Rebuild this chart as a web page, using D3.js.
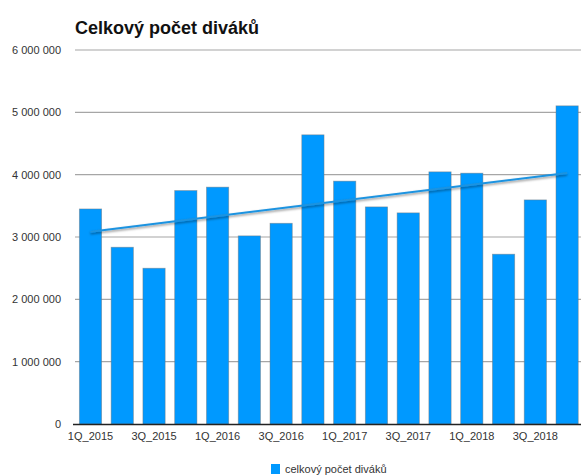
<!DOCTYPE html>
<html lang="cs">
<head>
<meta charset="utf-8">
<script src="https://cdn.jsdelivr.net/npm/d3@7"></script>
<style>
    html, body { margin: 0; padding: 0; background: #fff; }
    svg { display: block; font-family: "Liberation Sans", Arial, Helvetica, sans-serif; }
</style>
</head>
<body>
<div id="chart"></div>
<script>
const quarters = ['1Q_2015', '2Q_2015', '3Q_2015', '4Q_2015',
    '1Q_2016', '2Q_2016', '3Q_2016', '4Q_2016',
    '1Q_2017', '2Q_2017', '3Q_2017', '4Q_2017',
    '1Q_2018', '2Q_2018', '3Q_2018', '4Q_2018'];
const viewers = [3450000, 2836000, 2499000, 3745000,
    3800000, 3018000, 3220000, 4639000,
    3896000, 3483000, 3387000, 4045000,
    4024000, 2724000, 3595000, 5104000];
// trend line values at first and last quarter
const trendEnds = [3085000, 4027000];
const yTicks = [0, 1000000, 2000000, 3000000, 4000000, 5000000, 6000000];
const title = 'Celkový počet diváků';
const seriesName = 'celkový počet diváků';

(() => {
    const width = 581, height = 476;
    const barColor = '#0099ff';

    const svg = d3.select('#chart').append('svg')
        .attr('width', width).attr('height', height);

    const defs = svg.append('defs');
    defs.append('filter')
        .attr('id', 'shadow')
        .attr('x', '-5%').attr('y', '-50%')
        .attr('width', '110%').attr('height', '200%')
        .append('feDropShadow')
        .attr('dx', 0).attr('dy', 1.5)
        .attr('stdDeviation', 1)
        .attr('flood-color', '#000')
        .attr('flood-opacity', 0.45);

    const x = d3.scaleBand()
        .domain(quarters)
        .range([74.6, 583])
        .paddingInner(0.3)
        .paddingOuter(0.15);
    const y = d3.scaleLinear()
        .domain([0, 6000000])
        .range([424, 50]);

    const fmt = v => d3.format(',')(v).replace(/,/g, ' ');

    // gridlines
    svg.append('g')
        .selectAll('line')
        .data(yTicks.filter(t => t > 0))
        .enter()
        .append('line')
        .attr('x1', 75).attr('x2', width + 5)
        .attr('y1', d => y(d)).attr('y2', d => y(d))
        .attr('stroke', '#a6a6a6')
        .attr('stroke-width', 1.2);

    // y axis labels
    const yAxis = svg.append('g')
        .attr('transform', 'translate(75,0)')
        .call(d3.axisLeft(y).tickValues(yTicks).tickSize(0).tickPadding(14).tickFormat(fmt));
    yAxis.select('.domain').remove();
    yAxis.selectAll('text')
        .attr('font-size', 11)
        .attr('fill', '#333')
        .style('font-family', '"Liberation Sans", Arial, sans-serif');

    // bars
    svg.append('g')
        .selectAll('rect')
        .data(viewers)
        .enter()
        .append('rect')
        .attr('x', (d, i) => x(quarters[i]))
        .attr('y', d => y(d))
        .attr('width', x.bandwidth())
        .attr('height', d => y(0) - y(d))
        .attr('fill', barColor)
        .attr('stroke', 'rgba(120,120,120,0.55)')
        .attr('stroke-width', 0.8);

    // x axis
    const xAxis = svg.append('g')
        .attr('transform', `translate(0,${y(0)})`)
        .call(d3.axisBottom(x)
            .tickValues(quarters.filter((q, i) => i % 2 === 0))
            .tickSize(0).tickPadding(8));
    xAxis.select('.domain')
        .attr('d', `M73,0.5H${width + 5}`)
        .attr('stroke', '#222')
        .attr('stroke-width', 1.6);
    xAxis.selectAll('text')
        .attr('font-size', 11)
        .attr('fill', '#333')
        .style('font-family', '"Liberation Sans", Arial, sans-serif');

    // trend line
    const first = quarters[0], last = quarters[quarters.length - 1];
    svg.append('line')
        .attr('x1', x(first) + x.bandwidth() / 2)
        .attr('y1', y(trendEnds[0]))
        .attr('x2', x(last) + x.bandwidth() / 2)
        .attr('y2', y(trendEnds[1]))
        .attr('stroke', '#1d93e0')
        .attr('stroke-width', 2)
        .attr('filter', 'url(#shadow)');

    // title
    svg.append('text')
        .attr('x', 75).attr('y', 34)
        .attr('font-size', 18)
        .attr('font-weight', 'bold')
        .attr('fill', '#111')
        .text(title);

    // legend
    const legend = svg.append('g').attr('transform', 'translate(271,464)');
    legend.append('rect')
        .attr('width', 9).attr('height', 10)
        .attr('fill', barColor);
    legend.append('text')
        .attr('x', 14).attr('y', 9)
        .attr('font-size', 11)
        .attr('fill', '#333')
        .text(seriesName);
})();
</script>
</body>
</html>
